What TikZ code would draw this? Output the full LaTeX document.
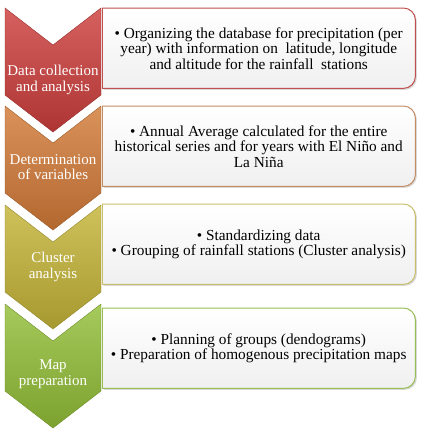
\documentclass[tikz,border=0pt]{standalone}
\usepackage{fontspec}
\setmainfont{Liberation Serif}
\usetikzlibrary{backgrounds,shadows}

\definecolor{redc}{RGB}{204,62,60}
\definecolor{orangec}{RGB}{210,122,55}
\definecolor{olivec}{RGB}{196,180,55}
\definecolor{greenc}{RGB}{146,190,55}
\definecolor{redb}{RGB}{192,80,77}
\definecolor{orangeb}{RGB}{196,140,100}
\definecolor{oliveb}{RGB}{200,190,105}
\definecolor{greenb}{RGB}{150,190,85}

\begin{document}
\begin{tikzpicture}[x=1pt, y=-1pt,
    chev/.style={draw=#1!75!black, line width=0.4pt, top color=#1!82!white, middle color=#1, bottom color=#1!85!black},
    stage/.style={text=white, align=center, inner sep=0pt, font=\fontsize{15}{15.5}\selectfont},
    task/.style={anchor=north west, minimum width=313pt, minimum height=80pt, inner sep=0pt, align=center, font=\fontsize{15.3}{15.5}\selectfont},
    frame/.style={draw=#1, line width=1pt, rounded corners=12pt, top color=white, bottom color=black!6, drop shadow={shadow xshift=1.5pt, shadow yshift=-1.5pt, opacity=0.3}}
]
\useasboundingbox (0,0) rectangle (421,434);

% ----- 상자 -----
\node[task] (t1) at (102,8) {• Organizing the database for precipitation (per\\year) with information on~ latitude, longitude\\and altitude for the rainfall~ stations};
\node[task] (t2) at (102,106) {• Annual Average calculated for the entire\\historical series and for years with El Niño and\\La Niña};
\node[task] (t3) at (102,204) {• Standardizing data\\• Grouping of rainfall stations (Cluster analysis)};
\node[task] (t4) at (102,308) {• Planning of groups (dendograms)\\• Preparation of homogenous precipitation maps};

\begin{pgfonlayer}{background}
\path[frame=redb] (t1.north west) -- (t1.north east) -- (t1.south east) -- (t1.south west);
\path[frame=orangeb] (t2.north west) -- (t2.north east) -- (t2.south east) -- (t2.south west);
\path[frame=oliveb] (t3.north west) -- (t3.north east) -- (t3.south east) -- (t3.south west);
\path[frame=greenb] (t4.north west) -- (t4.north east) -- (t4.south east) -- (t4.south west);
\draw[redb, line width=1pt] (t1.south west) -- (t1.north west);
\draw[orangeb, line width=1pt] (t2.south west) -- (t2.north west);
\draw[oliveb, line width=1pt] (t3.south west) -- (t3.north west);
\draw[greenb, line width=1pt] (t4.south west) -- (t4.north west);
\end{pgfonlayer}

% ----- 단계 1 -----
\path[chev=redc] (5,8) -- (53,45) -- (101,8) -- (101,95) -- (53,132) -- (5,95) -- cycle;
\node[stage] (s1) at (53,80) {Data collection\\and analysis};

% ----- 단계 2 -----
\path[chev=orangec] (5,106) -- (53,143) -- (101,106) -- (101,193) -- (53,230) -- (5,193) -- cycle;
\node[stage] (s2) at (53,167) {Determination\\of variables};

% ----- 단계 3 -----
\path[chev=olivec] (5,205) -- (53,242) -- (101,205) -- (101,292) -- (53,329) -- (5,292) -- cycle;
\node[stage] (s3) at (53,267) {Cluster\\analysis};

% ----- 단계 4 -----
\path[chev=greenc] (5,304) -- (53,341) -- (101,304) -- (101,391) -- (53,428) -- (5,391) -- cycle;
\node[stage] (s4) at (53,374) {Map\\preparation};

\end{tikzpicture}
\end{document}
